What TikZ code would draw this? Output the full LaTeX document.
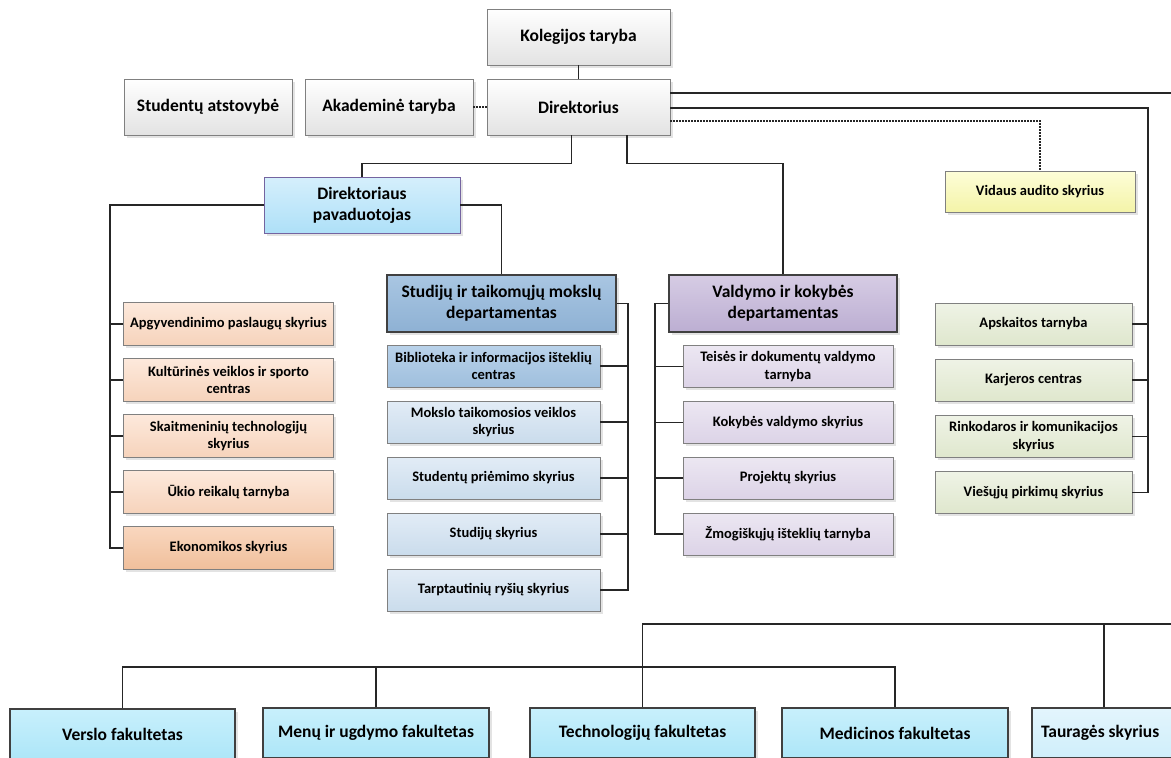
\documentclass[tikz,border=0pt]{standalone}
\usepackage{fontspec}
\setmainfont{Carlito}
\usetikzlibrary{shadows}
\definecolor{lnc}{HTML}{262626}
\definecolor{brd}{HTML}{808080}
\definecolor{dbrd}{HTML}{404040}
\definecolor{pavb}{HTML}{7464A0}
\definecolor{pavt}{HTML}{D5EFFC}\definecolor{pavu}{HTML}{AEE0F8}
\definecolor{sdt}{HTML}{A9C6E2}\definecolor{sdu}{HTML}{8EB1D4}
\definecolor{vkt}{HTML}{D6CCE4}\definecolor{vku}{HTML}{BCAED2}
\definecolor{ort}{HTML}{FDE9DC}\definecolor{oru}{HTML}{F6D3BB}
\definecolor{ekt}{HTML}{F9D7BF}\definecolor{eku}{HTML}{F0BF9B}
\definecolor{bibt}{HTML}{B9D2EA}\definecolor{bibu}{HTML}{9FBFDD}
\definecolor{blt}{HTML}{E2ECF6}\definecolor{blu}{HTML}{CADCEC}
\definecolor{lvt}{HTML}{ECE7F2}\definecolor{lvu}{HTML}{DCD3E7}
\definecolor{grt}{HTML}{EFF3E6}\definecolor{gru}{HTML}{DFE7CD}
\definecolor{yet}{HTML}{FDFDD8}\definecolor{yeu}{HTML}{F4F4A8}
\definecolor{fkt}{HTML}{C8F0FC}\definecolor{fku}{HTML}{ADE6F8}
\definecolor{tgt}{HTML}{E3F5FD}\definecolor{tgu}{HTML}{CFEEFA}
\begin{document}
\begin{tikzpicture}[x=1pt,y=-1pt,
  base/.style={rectangle, align=center, inner sep=1pt, line width=0.8pt, draw=brd,
     drop shadow={opacity=0.22,shadow xshift=2.5pt,shadow yshift=-2.5pt}},
  sz/.style 2 args={minimum width=#1 pt, minimum height=#2 pt},
  bigf/.style={font=\bfseries\fontsize{17.5}{21}\selectfont},
  smf/.style={font=\bfseries\fontsize{14.5}{17.5}\selectfont},
  graybox/.style={base, bigf, top color=white, bottom color=black!11},
  pavbox/.style={base, bigf, draw=pavb, top color=pavt, bottom color=pavu},
  deptbox/.style={base, bigf, draw=dbrd, line width=2.4pt},
  sdbox/.style={deptbox, top color=sdt, bottom color=sdu},
  vkbox/.style={deptbox, top color=vkt, bottom color=vku},
  orbox/.style={base, smf, top color=ort, bottom color=oru},
  ekbox/.style={base, smf, top color=ekt, bottom color=eku},
  bibbox/.style={base, smf, top color=bibt, bottom color=bibu},
  blbox/.style={base, smf, top color=blt, bottom color=blu},
  lvbox/.style={base, smf, top color=lvt, bottom color=lvu},
  grbox/.style={base, smf, top color=grt, bottom color=gru},
  yebox/.style={base, smf, top color=yet, bottom color=yeu},
  fkbox/.style={base, bigf, draw=dbrd, line width=1.4pt, top color=fkt, bottom color=fku},
  tgbox/.style={base, bigf, draw=dbrd, line width=1.4pt, top color=tgt, bottom color=tgu},
  conn/.style={draw=lnc, line width=1.2pt},
  dotl/.style={draw=lnc, line width=1.2pt, dash pattern=on 1.6pt off 1.4pt}
]
\useasboundingbox (0,0) rectangle (1171,758);
\clip (0,0) rectangle (1171,758);
\fill[white] (0,0) rectangle (1171,758);

% top
\node[graybox, sz={183}{56}] (kol) at (578.5,37) {Kolegijos taryba};
\node[graybox, sz={183}{56}] (dir) at (578.5,107) {Direktorius};
\node[graybox, sz={168}{56}] (akad) at (389,107) {Akademinė taryba};
\node[graybox, sz={168}{56}] (stud) at (208,107) {Studentų atstovybė};

\node[pavbox, sz={196}{56}] (pav) at (362,205) {Direktoriaus\\pavaduotojas};
\node[yebox, sz={190}{41}] (vid) at (1040,191.5) {Vidaus audito skyrius};

\node[sdbox, sz={229}{57}] (sd) at (501.5,303.5) {Studijų ir taikomųjų mokslų\\departamentas};
\node[vkbox, sz={228}{57}] (vk) at (783,303.5) {Valdymo ir kokybės\\departamentas};

% left column
\node[orbox, sz={210}{43}] (l1) at (228.5,324) {Apgyvendinimo paslaugų skyrius};
\node[orbox, sz={210}{43}] (l2) at (228.5,380) {Kultūrinės veiklos ir sporto\\centras};
\node[orbox, sz={210}{43}] (l3) at (228.5,436) {Skaitmeninių technologijų\\skyrius};
\node[orbox, sz={210}{43}] (l4) at (228.5,492) {Ūkio reikalų tarnyba};
\node[ekbox, sz={210}{43}] (l5) at (228.5,548) {Ekonomikos skyrius};

% studiju column
\node[bibbox, sz={213}{42}] (s1) at (493.5,366) {Biblioteka ir informacijos išteklių\\centras};
\node[blbox, sz={213}{42}] (s2) at (493.5,422) {Mokslo taikomosios veiklos\\skyrius};
\node[blbox, sz={213}{42}] (s3) at (493.5,478) {Studentų priėmimo skyrius};
\node[blbox, sz={213}{42}] (s4) at (493.5,534) {Studijų skyrius};
\node[blbox, sz={213}{42}] (s5) at (493.5,590) {Tarptautinių ryšių skyrius};

% valdymo column
\node[lvbox, sz={210}{42}] (v1) at (788,366.5) {Teisės ir dokumentų valdymo\\tarnyba};
\node[lvbox, sz={210}{42}] (v2) at (788,422.5) {Kokybės valdymo skyrius};
\node[lvbox, sz={210}{42}] (v3) at (788,478) {Projektų skyrius};
\node[lvbox, sz={210}{42}] (v4) at (788,534) {Žmogiškųjų išteklių tarnyba};

% green column
\node[grbox, sz={197}{42}] (g1) at (1033.5,324) {Apskaitos tarnyba};
\node[grbox, sz={197}{42}] (g2) at (1033.5,380) {Karjeros centras};
\node[grbox, sz={197}{42}] (g3) at (1033.5,436.5) {Rinkodaros ir komunikacijos\\skyrius};
\node[grbox, sz={197}{42}] (g4) at (1033.5,492.5) {Viešųjų pirkimų skyrius};

% faculties
\node[fkbox, sz={225}{50}] (f1) at (122.5,734) {Verslo fakultetas};
\node[fkbox, sz={226}{50}] (f2) at (376,733) {Menų ir ugdymo fakultetas};
\node[fkbox, sz={225}{50}] (f3) at (642.5,733) {Technologijų fakultetas};
\node[fkbox, sz={226}{50}] (f4) at (895,733) {Medicinos fakultetas};
\node[tgbox, sz={226}{50}, text width=208pt, align=flush left] (f5) at (1145,733) {Tauragės skyrius};

% coordinates
\coordinate (lbus) at (110,0);
\coordinate (sbus) at (628,0);
\coordinate (vbus) at (655,0);
\coordinate (gbus) at (1148,0);
\coordinate (edgeR) at (1176,0);
\coordinate (bA) at (1176,624);
\coordinate (bB) at (0,667);
\coordinate (d1) at ([yshift=14pt]dir.east);
\coordinate (d2) at ([yshift=-1pt]dir.east);
\coordinate (d3) at ([yshift=-14pt]dir.east);

% connectors
\draw[conn] (kol.south) -- (dir.north);
\draw[dotl] (akad.east) -- (dir.west);
\draw[conn] ([xshift=-7pt]dir.south) -- ++(0,28) -| (pav.north);
\draw[conn] ([xshift=48.5pt]dir.south) -- ++(0,28) -| (vk.north);
\draw[conn] (d1) -- (d1 -| edgeR);
\draw[conn] (d2) -| (gbus |- g4.east) -- (g4.east);
\draw[dotl] (d3) -| (vid.north);

\draw[conn] (pav.west) -| (lbus |- l5.west) -- (l5.west);
\foreach \n in {l1,l2,l3,l4} \draw[conn] (lbus |- \n.west) -- (\n.west);
\draw[conn] (pav.east) -| (sd.north);

\draw[conn] (sd.east) -| (sbus |- s5.east) -- (s5.east);
\foreach \n in {s1,s2,s3,s4} \draw[conn] (sbus |- \n.east) -- (\n.east);

\draw[conn] (vk.west) -| (vbus |- v4.west) -- (v4.west);
\foreach \n in {v1,v2,v3} \draw[conn] (vbus |- \n.west) -- (\n.west);

\foreach \n in {g1,g2,g3} \draw[conn] (gbus |- \n.east) -- (\n.east);

\draw[conn] (bA) -| (f3.north);
\draw[conn] ([xshift=-41pt]f5.north) |- (bA);
\draw[conn] (f1.north) -- (f1.north |- bB) -- (f4.north |- bB) -- (f4.north);
\draw[conn] (f2.north) -- (f2.north |- bB);
\end{tikzpicture}
\end{document}
